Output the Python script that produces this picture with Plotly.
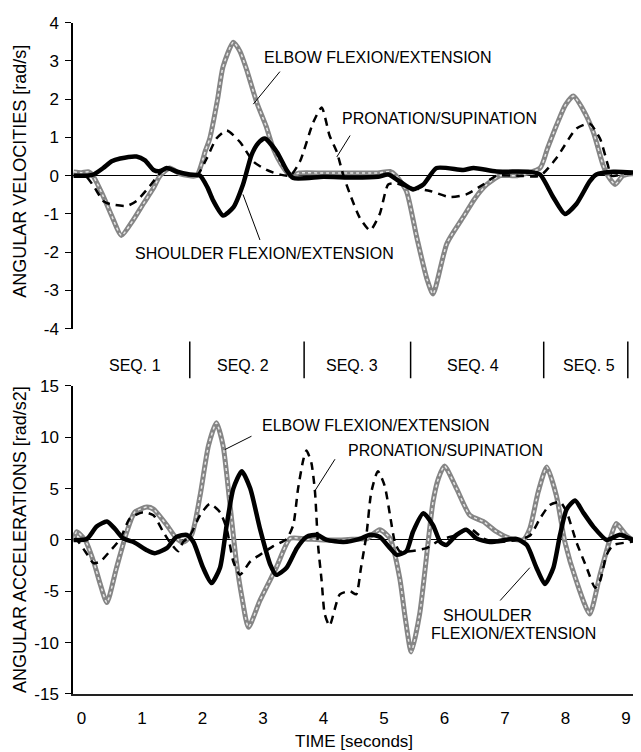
import plotly.graph_objects as go

# ---------------- DATA ----------------
# Angular velocities [rad/s]
elbow_vel_t = [-0.13, 0.0, 0.12, 0.19, 0.35, 0.5, 0.66, 0.85, 1.02, 1.18, 1.3, 1.46, 1.63, 1.9, 2.05,
               2.12, 2.25, 2.34, 2.51, 2.62, 2.73, 2.9, 3.05, 3.17, 3.3, 3.45, 3.6, 4.0, 4.5, 4.9, 5.1,
               5.2, 5.37, 5.54, 5.71, 5.81, 6.04, 6.31, 6.5, 6.7, 6.92, 7.2, 7.58, 7.7, 7.85, 8.0,
               8.13, 8.3, 8.46, 8.62, 8.7, 8.82, 8.95, 9.1, 9.25]
elbow_vel = [0.1, 0.08, 0.1, 0.0, -0.5, -1.05, -1.56, -1.17, -0.74, -0.35, 0.0, 0.2, 0.05, 0.0, 0.66,
             0.97, 2.0, 2.85, 3.49, 3.25, 2.77, 1.9, 1.3, 0.71, 0.3, 0.0, 0.07, 0.07, 0.07, 0.07, 0.11,
             0.0, -0.4, -1.6, -2.7, -3.09, -1.77, -1.08, -0.6, -0.23, 0.0, 0.0, 0.2, 0.7, 1.31, 1.85,
             2.08, 1.7, 1.14, 0.28, 0.0, -0.23, 0.0, 0.05, 0.05]

shoulder_vel_t = [-0.13, 0.1, 0.2, 0.36, 0.5, 0.64, 0.91, 1.05, 1.19, 1.3, 1.41, 1.57, 1.79, 1.96, 2.08,
                  2.18, 2.34, 2.51, 2.67, 2.81, 2.92, 3.03, 3.23, 3.39, 3.5, 4.0, 4.5, 4.9, 5.07, 5.26,
                  5.48, 5.65, 5.87, 6.31, 6.48, 6.86, 7.41, 7.58, 7.8, 7.99, 8.18, 8.4, 8.51, 8.79, 9.25]
shoulder_vel = [0.0, 0.0, 0.03, 0.2, 0.38, 0.45, 0.5, 0.4, 0.15, 0.12, 0.2, 0.11, 0.03, 0.0, -0.3,
                -0.66, -1.04, -0.83, -0.23, 0.54, 0.85, 0.97, 0.62, 0.15, -0.06, -0.03, -0.05, -0.03,
                0.03, -0.15, -0.36, -0.23, 0.2, 0.15, 0.2, 0.11, 0.1, 0.03, -0.57, -1.0, -0.74, -0.15,
                0.03, 0.1, 0.07]

pronation_vel_t = [-0.13, 0.06, 0.2, 0.36, 0.47, 0.75, 0.91, 1.13, 1.3, 1.41, 1.63, 1.9, 2.07, 2.23, 2.4,
                   2.62, 2.84, 3.06, 3.28, 3.45, 3.61, 3.83, 3.97, 4.1, 4.22, 4.33, 4.44, 4.6, 4.77,
                   4.93, 5.07, 5.2, 5.4, 5.76, 6.09, 6.36, 6.64, 6.86, 7.2, 7.58, 7.85, 8.18, 8.4, 8.57,
                   8.7, 8.76, 9.0, 9.25]
pronation_vel = [0.0, 0.0, -0.27, -0.66, -0.74, -0.79, -0.66, -0.27, 0.07, 0.2, 0.07, 0.0, 0.45, 0.97,
                 1.18, 0.88, 0.37, 0.15, 0.03, 0.0, 0.37, 1.39, 1.78, 1.05, 0.62, 0.0, -0.49, -1.1,
                 -1.43, -1.0, -0.23, -0.2, -0.3, -0.4, -0.56, -0.49, -0.23, 0.0, 0.0, 0.0, 0.46, 1.23,
                 1.36, 0.97, 0.28, 0.0, 0.05, 0.05]

# Angular accelerations [rad/s2]
elbow_acc_t = [-0.13, -0.08, 0.06, 0.2, 0.31, 0.42, 0.58, 0.75, 0.88, 1.08, 1.19, 1.41, 1.57, 1.68, 1.82,
               1.96, 2.1, 2.23, 2.34, 2.45, 2.56, 2.65, 2.76, 2.95, 3.22, 3.45, 3.7, 4.0, 4.3, 4.6,
               4.71, 4.93, 5.1, 5.26, 5.35, 5.45, 5.59, 5.73, 5.81, 5.9, 6.0, 6.2, 6.42, 6.64, 6.86,
               7.08, 7.3, 7.41, 7.55, 7.69, 7.85, 7.99, 8.18, 8.4, 8.57, 8.74, 8.84, 9.0, 9.12, 9.25]
elbow_acc = [0.0, 0.8, 0.0, -2.1, -4.3, -6.1, -2.7, 0.8, 2.7, 3.2, 3.0, 1.45, 0.15, -0.2, 0.5,
             4.3, 9.2, 11.4, 9.2, 3.7, -2.1, -5.5, -8.5, -5.9, -2.7, 0.15, 0.1, 0.0, 0.0, 0.1,
             0.1, 1.0, 0.15, -3.7, -7.55, -10.9, -7.2, -0.2, 3.7, 6.0, 7.2, 5.0, 2.4, 1.8, 0.8,
             0.15, 0.0, 1.1, 4.7, 7.1, 4.3, -0.2, -4.0, -7.2, -3.4, 0.15, 1.6, 0.5, 0.0, 0.0]

shoulder_acc_t = [-0.13, 0.09, 0.25, 0.42, 0.55, 0.69, 0.86, 1.08, 1.21, 1.41, 1.57, 1.74, 1.85, 2.01,
                  2.15, 2.29, 2.4, 2.51, 2.65, 2.79, 2.95, 3.12, 3.22, 3.39, 3.56, 3.72, 3.89, 4.05,
                  4.33, 4.6, 4.77, 4.93, 5.1, 5.21, 5.37, 5.48, 5.65, 5.81, 5.93, 6.03, 6.2, 6.36,
                  6.53, 6.75, 7.19, 7.36, 7.52, 7.66, 7.8, 7.91, 8.02, 8.16, 8.29, 8.46, 8.68, 8.9,
                  9.12, 9.25]
shoulder_acc = [0.0, 0.1, 1.3, 1.8, 1.1, 0.15, -0.2, -1.0, -1.3, -0.8, 0.3, 0.5, -0.2, -2.7, -4.2,
                -2.7, 1.45, 5.0, 6.7, 5.0, 1.1, -2.4, -3.4, -2.7, -0.8, 0.3, 0.5, 0.0, -0.2, 0.1, 0.5,
                0.3, -0.8, -1.45, -1.1, 0.8, 2.6, 1.45, -0.2, -0.5, 0.5, 1.0, 0.15, -0.2, 0.1, -0.5,
                -2.7, -4.3, -2.7, 0.5, 3.0, 3.85, 2.7, 1.3, 0.0, 0.5, 0.0, 0.0]

pronation_acc_t = [-0.13, -0.08, 0.06, 0.2, 0.31, 0.47, 0.64, 0.8, 1.02, 1.19, 1.35, 1.46, 1.6, 1.68,
                   1.79, 1.96, 2.12, 2.29, 2.4, 2.51, 2.62, 2.79, 2.95, 3.17, 3.39, 3.5, 3.58, 3.67,
                   3.72, 3.8, 3.86, 3.91, 3.97, 4.02, 4.1, 4.27, 4.44, 4.54, 4.62, 4.71, 4.79, 4.9,
                   5.01, 5.1, 5.18, 5.26, 5.43, 5.7, 5.93, 6.2, 6.42, 6.64, 6.86, 7.2, 7.41, 7.58,
                   7.74, 7.91, 8.02, 8.18, 8.35, 8.49, 8.57, 8.68, 8.79, 9.07, 9.25]
pronation_acc = [0.0, 0.0, -1.1, -2.25, -2.1, -1.1, 0.1, 2.1, 2.7, 2.4, 0.8, -0.2, -1.1, -0.2, 0.4,
                 2.4, 3.5, 2.7, 1.1, -2.1, -3.4, -2.1, -1.45, -0.6, 0.1, 1.45, 5.0, 7.9, 8.7, 7.5,
                 4.65, -0.5, -4.0, -7.2, -8.35, -5.3, -5.0, -5.3, -2.7, 0.5, 4.65, 6.7, 5.3, 2.4,
                 -0.2, -1.1, -1.1, -0.8, 0.0, 0.5, 1.1, 0.15, -0.2, 0.0, 0.4, 2.1, 3.4, 3.7, 2.7,
                 -0.2, -2.7, -4.65, -4.0, -1.45, -0.5, -0.2, 0.0]

vel_ticks = [-4, -3, -2, -1, 0, 1, 2, 3, 4]
vel_ticktext = ["-4", "-3", "-2", "-1", "0", "1", "2", "3", "4"]
acc_ticks = [-15, -10, -5, 0, 5, 10, 15]
acc_ticktext = ["-15", "-10", "-5", "0", "5", "10", "15"]
time_ticks = [0, 1, 2, 3, 4, 5, 6, 7, 8, 9]
time_ticktext = ["0", "1", "2", "3", "4", "5", "6", "7", "8", "9"]

seq_labels = ["SEQ. 1", "SEQ. 2", "SEQ. 3", "SEQ. 4", "SEQ. 5"]
seq_label_t = [0.88, 2.67, 4.47, 6.47, 8.39]
seq_bounds_t = [1.79, 3.68, 5.44, 7.64, 9.03]

# ---------------- FIGURE ----------------
FONT = "Liberation Sans, Arial, sans-serif"
fig = go.Figure()

SM = 0.6

def elbow(t, v, xa, ya):
    fig.add_trace(go.Scatter(x=t, y=v, xaxis=xa, yaxis=ya, mode="lines",
                             line=dict(color="#858585", width=5, shape="spline", smoothing=SM),
                             hoverinfo="skip"))
    fig.add_trace(go.Scatter(x=t, y=v, xaxis=xa, yaxis=ya, mode="lines",
                             line=dict(color="#e6e6e6", width=1.5, dash="dot", shape="spline", smoothing=SM),
                             hoverinfo="skip"))

def pron(t, v, xa, ya):
    fig.add_trace(go.Scatter(x=t, y=v, xaxis=xa, yaxis=ya, mode="lines",
                             line=dict(color="black", width=2.5, dash="8px,6px", shape="spline", smoothing=SM),
                             hoverinfo="skip"))

def shoulder(t, v, xa, ya):
    fig.add_trace(go.Scatter(x=t, y=v, xaxis=xa, yaxis=ya, mode="lines",
                             line=dict(color="black", width=4.5, shape="spline", smoothing=SM),
                             hoverinfo="skip"))

elbow(elbow_vel_t, elbow_vel, "x", "y")
pron(pronation_vel_t, pronation_vel, "x", "y")
shoulder(shoulder_vel_t, shoulder_vel, "x", "y")

elbow(elbow_acc_t, elbow_acc, "x2", "y2")
pron(pronation_acc_t, pronation_acc, "x2", "y2")
shoulder(shoulder_acc_t, shoulder_acc, "x2", "y2")

xr = [-0.14, 9.248]
tickfont = dict(family=FONT, size=17, color="black")

# page body has an 8px margin, so the figure is drawn 8px smaller and offset
fig.update_layout(
    width=633, height=744,
    margin=dict(l=65, r=0, t=2, b=58),
    paper_bgcolor="white", plot_bgcolor="white",
    showlegend=False,
    font=dict(family=FONT, size=16, color="black"),
    xaxis=dict(domain=[0, 1], range=xr, anchor="y", showline=False, showgrid=False,
               zeroline=False, showticklabels=False, ticks=""),
    yaxis=dict(domain=[0.5395, 0.9917], range=[-4, 4], anchor="x", showline=True,
               linecolor="black", linewidth=1.5, ticks="outside", ticklen=6, tickwidth=1,
               tickcolor="black", tickvals=vel_ticks, ticktext=vel_ticktext, tickfont=tickfont,
               showgrid=False, zeroline=True, zerolinecolor="black", zerolinewidth=1,
               ticklabelstandoff=3),
    xaxis2=dict(domain=[0, 1], range=xr, anchor="y2", showline=True, linecolor="#222",
                linewidth=2, showgrid=False, zeroline=False, ticks="",
                tickvals=time_ticks, ticktext=time_ticktext, tickfont=tickfont,
                ticklabelstandoff=8),
    yaxis2=dict(domain=[0, 0.4551], range=[-15, 15], anchor="x2", showline=True,
                linecolor="black", linewidth=1.5, ticks="outside", ticklen=6, tickwidth=1,
                tickcolor="black", tickvals=acc_ticks, ticktext=acc_ticktext, tickfont=tickfont,
                showgrid=False, zeroline=True, zerolinecolor="black", zerolinewidth=1,
                ticklabelstandoff=3),
)

ann = []
ann.append(dict(text="ANGULAR VELOCITIES [rad/s]", xref="paper", yref="y", x=0, y=0.1,
                xshift=-53, textangle=-90, showarrow=False, xanchor="center", yanchor="middle",
                font=dict(family=FONT, size=18)))
ann.append(dict(text="ANGULAR ACCELERATIONS [rad/s2]", xref="paper", yref="y2", x=0, y=0,
                xshift=-53, textangle=-90, showarrow=False, xanchor="center", yanchor="middle",
                font=dict(family=FONT, size=18)))
ann.append(dict(text="TIME [seconds]", xref="x2", yref="paper", x=4.5, y=0, yshift=-47,
                showarrow=False, xanchor="center", yanchor="middle",
                font=dict(family=FONT, size=17)))

def label(text, x, y, xa, ya):
    ann.append(dict(text=text, xref=xa, yref=ya, x=x, y=y, showarrow=False,
                    xanchor="left", yanchor="middle", font=dict(family=FONT, size=16)))

label("ELBOW FLEXION/EXTENSION", 2.98, 3.1, "x", "y")
label("PRONATION/SUPINATION", 4.27, 1.49, "x", "y")
label("SHOULDER FLEXION/EXTENSION", 0.85, -2.03, "x", "y")
label("ELBOW FLEXION/EXTENSION", 2.95, 11.1, "x2", "y2")
label("PRONATION/SUPINATION", 4.38, 8.67, "x2", "y2")
label("SHOULDER", 5.94, -7.4, "x2", "y2")
label("FLEXION/EXTENSION", 5.74, -9.15, "x2", "y2")

for s, t in zip(seq_labels, seq_label_t):
    ann.append(dict(text=s, xref="x2", yref="paper", x=t, y=0.4854, showarrow=False,
                    xanchor="center", yanchor="middle", font=dict(family=FONT, size=16)))

fig.update_layout(annotations=ann)

shapes = []
pointers = [
    ("x", "y", 3.28, 2.72, 2.84, 1.87),
    ("x", "y", 4.44, 1.05, 4.22, 0.49),
    ("x", "y", 2.95, -1.68, 2.67, -0.49),
    ("x2", "y2", 2.81, 10.1, 2.37, 8.8),
    ("x2", "y2", 4.19, 7.86, 3.86, 4.8),
    ("x2", "y2", 6.92, -5.9, 7.41, -2.7),
]
for xa, ya, x0, y0, x1, y1 in pointers:
    shapes.append(dict(type="line", xref=xa, yref=ya, x0=x0, y0=y0, x1=x1, y1=y1,
                       line=dict(color="black", width=1)))
for t in seq_bounds_t:
    shapes.append(dict(type="line", xref="x2", yref="paper", x0=t, x1=t, y0=0.4664, y1=0.5205,
                       line=dict(color="black", width=1.5)))
fig.update_layout(shapes=shapes)

fig.write_html("out.html")
